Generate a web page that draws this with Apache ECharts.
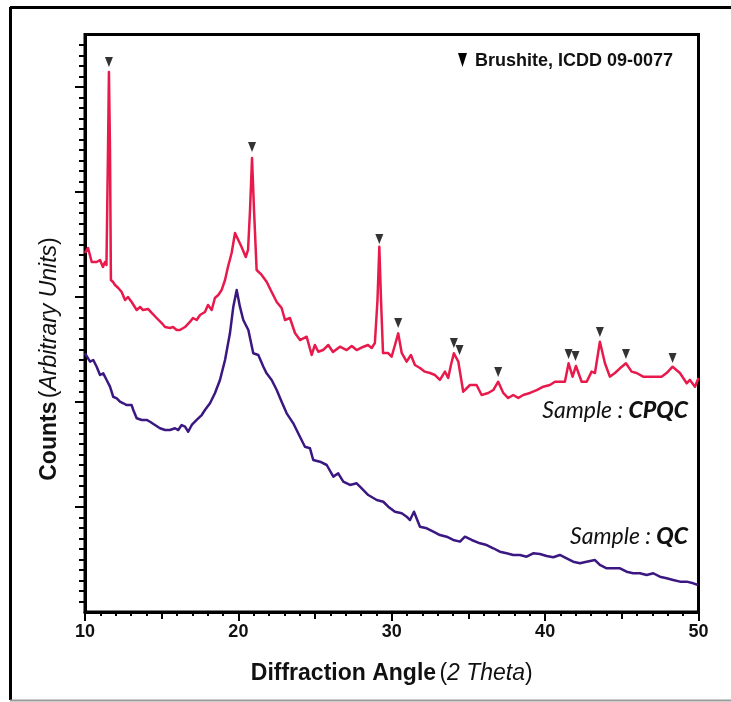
<!DOCTYPE html>
<html>
<head>
<meta charset="utf-8">
<title>XRD patterns</title>
<script src="https://cdn.jsdelivr.net/npm/echarts@6/dist/echarts.min.js"></script>
<style>
  html, body { margin: 0; padding: 0; background: #ffffff; }
  #chart { width: 731px; height: 702px; }
</style>
</head>
<body>
<div id="chart"></div>
<script>
// Sample CPQC diffractogram (2θ in degrees, counts in arbitrary units)
const cpqcAngle = [
  10.00, 10.20, 10.33, 10.44, 10.76, 10.98, 11.17, 11.30, 11.40, 11.50, 11.56, 11.63, 11.69, 11.83,
  11.96, 12.17, 12.39, 12.61, 12.80, 13.04, 13.37, 13.59, 13.78, 14.11, 14.35, 14.67, 15.00, 15.22,
  15.54, 15.74, 15.98, 16.19, 16.52, 16.84, 17.04, 17.28, 17.50, 17.82, 18.02, 18.26, 18.47, 18.69,
  18.91, 19.13, 19.32, 19.56, 19.78, 19.89, 20.21, 20.48, 20.63, 20.76, 20.89, 21.02, 21.19, 21.52,
  21.85, 22.17, 22.50, 22.82, 23.04, 23.36, 23.69, 24.02, 24.45, 24.78, 24.99, 25.21, 25.52, 25.86,
  26.17, 26.62, 27.06, 27.39, 27.71, 28.12, 28.45, 28.69, 28.90, 29.07, 29.19, 29.30, 29.43, 29.75,
  29.99, 30.21, 30.42, 30.65, 30.97, 31.25, 31.51, 31.84, 32.16, 32.49, 32.82, 33.14, 33.47, 33.68,
  33.86, 34.05, 34.34, 34.66, 35.10, 35.53, 35.86, 36.29, 36.62, 36.94, 37.27, 37.59, 37.92, 38.25,
  38.57, 39.01, 39.45, 39.88, 40.31, 40.64, 40.96, 41.29, 41.53, 41.79, 42.01, 42.38, 42.71, 43.03,
  43.25, 43.57, 43.90, 44.22, 44.55, 44.88, 45.27, 45.64, 45.96, 46.39, 47.05, 47.59, 47.92, 48.31,
  48.79, 49.23, 49.44, 49.77, 50.00
];
const cpqcCounts = [
  34.19, 34.67, 34.57, 33.33, 33.33, 33.52, 32.86, 33.33, 33.05, 44.00, 51.43, 44.00, 31.62, 31.43,
  31.14, 30.86, 30.48, 29.71, 30.00, 29.52, 28.76, 29.05, 28.76, 28.86, 28.48, 28.00, 27.52, 27.14,
  27.05, 27.14, 26.86, 26.86, 27.14, 27.62, 28.00, 27.81, 28.29, 28.57, 29.24, 28.76, 29.90, 30.19,
  30.67, 31.62, 32.86, 34.19, 36.10, 36.19, 34.76, 33.81, 34.48, 38.29, 43.24, 38.29, 32.57, 32.10,
  31.43, 30.48, 29.52, 28.95, 27.81, 28.00, 26.57, 25.90, 26.22, 24.48, 25.43, 24.79, 24.95, 25.43,
  24.76, 25.27, 24.95, 25.33, 24.95, 25.24, 25.43, 25.14, 25.62, 29.71, 34.79, 29.71, 24.67, 24.67,
  24.31, 25.43, 26.54, 24.67, 23.84, 24.48, 23.52, 23.24, 22.89, 22.76, 22.57, 22.10, 22.89, 22.29,
  23.52, 24.64, 23.84, 20.98, 21.62, 21.62, 20.67, 20.86, 21.14, 21.93, 20.86, 20.38, 20.67, 20.38,
  20.67, 20.86, 21.14, 21.46, 21.62, 21.93, 21.93, 21.93, 23.69, 22.41, 23.43, 21.93, 21.93, 22.89,
  22.76, 25.74, 23.69, 22.41, 22.76, 23.21, 23.69, 22.89, 22.76, 22.41, 22.41, 22.41, 22.76, 23.36,
  22.76, 21.78, 22.10, 21.46, 22.29
];

// Sample QC diffractogram
const qcAngle = [
  10.00, 10.33, 10.54, 10.76, 10.98, 11.19, 11.41, 11.63, 11.84, 12.07, 12.28, 12.50, 12.72, 13.04,
  13.15, 13.37, 13.70, 14.02, 14.24, 14.56, 14.89, 15.22, 15.54, 15.87, 16.08, 16.30, 16.52, 16.73,
  16.96, 17.28, 17.61, 17.82, 18.15, 18.47, 18.80, 19.13, 19.45, 19.67, 19.89, 20.10, 20.32, 20.65,
  20.97, 21.30, 21.63, 21.84, 22.17, 22.50, 22.82, 23.15, 23.58, 23.90, 24.34, 24.67, 24.88, 25.32,
  25.76, 26.19, 26.51, 26.84, 27.28, 27.71, 28.04, 28.47, 29.02, 29.45, 29.77, 30.21, 30.65, 30.97,
  31.19, 31.45, 31.84, 32.28, 32.71, 33.14, 33.58, 34.01, 34.45, 34.77, 35.21, 35.75, 36.19, 36.62,
  37.05, 37.49, 37.92, 38.36, 38.79, 39.22, 39.66, 40.10, 40.53, 40.96, 41.40, 41.83, 42.27, 42.70,
  43.25, 43.57, 44.01, 44.44, 44.88, 45.31, 45.74, 46.18, 46.62, 47.05, 47.48, 47.92, 48.35, 48.79,
  49.23, 49.66, 49.97
];
const qcCounts = [
  24.64, 23.84, 24.00, 23.36, 22.57, 22.73, 22.10, 21.46, 20.50, 20.35, 20.03, 19.88, 19.71, 19.71,
  19.24, 18.45, 18.29, 18.29, 18.12, 17.81, 17.50, 17.33, 17.33, 17.50, 17.33, 17.81, 17.65, 17.17,
  17.81, 18.29, 18.76, 19.24, 19.88, 20.83, 22.10, 24.00, 26.54, 29.08, 30.67, 29.08, 27.81, 26.86,
  24.64, 24.48, 23.36, 22.73, 22.10, 21.14, 20.03, 18.92, 17.97, 17.02, 15.74, 15.59, 14.48, 14.31,
  14.00, 12.89, 13.21, 12.41, 12.10, 12.26, 11.78, 11.14, 10.67, 10.50, 10.03, 9.55, 9.40, 9.08,
  8.76, 9.55, 8.12, 7.97, 7.65, 7.33, 7.17, 6.86, 6.70, 7.17, 6.86, 6.54, 6.38, 6.07,
  5.74, 5.59, 5.43, 5.43, 5.27, 5.59, 5.52, 5.33, 5.21, 5.43, 5.11, 4.79, 4.64, 4.79,
  4.95, 4.48, 4.16, 4.16, 4.16, 3.84, 3.69, 3.69, 3.52, 3.69, 3.36, 3.21, 3.05, 2.89,
  2.89, 2.73, 2.57
];

// Brushite (ICDD 09-0077) reflections marked above the CPQC pattern
const brushiteAngle = [11.56, 20.89, 29.19, 30.42, 34.05, 34.42, 36.94, 41.53, 41.98, 43.57, 45.27, 48.31];
const brushiteMark  = [52.38, 44.29, 35.52, 27.52, 25.62, 24.95, 22.86, 24.57, 24.38, 26.67, 24.57, 24.19];

// Axis ticks
const xTickLabels = [10, 20, 30, 40, 50];
const xMidTicks = [15, 25, 35, 45];
const yMajorTicks = [10, 20, 30, 40, 50];
const yMinorTicks = [];
for (let v = 1; v < 55; v++) { if (v % 10 !== 0) yMinorTicks.push(v); }

const zip = (xs, ys) => xs.map((x, i) => [x, ys[i]]);

const BRUSHITE = 'Brushite, ICDD 09-0077';
const DOWN_TRIANGLE = 'path://M0,0L10,0L5,12Z';
const axisFont = "'Liberation Sans', Arial, sans-serif";
const captionFont = "Lato, 'Open Sans', sans-serif";

const chart = echarts.init(document.getElementById('chart'), null, { renderer: 'canvas' });

const captionRich = {
  a: { fontFamily: captionFont, fontStyle: 'italic', fontSize: 23, fill: '#111' },
  b: { fontFamily: captionFont, fontStyle: 'italic', fontWeight: 900, fontSize: 23, fill: '#111' }
};

chart.setOption({
  backgroundColor: '#ffffff',
  animation: false,
  grid: { left: 85, right: 32.5, top: 34.5, bottom: 90, show: true, borderColor: '#000', borderWidth: 3, backgroundColor: 'transparent' },
  xAxis: [
    {
      type: 'value', min: 10, max: 50, interval: 10, position: 'bottom',
      axisLine: { show: true, lineStyle: { color: '#000', width: 3 } },
      axisTick: { show: true, length: 9, lineStyle: { color: '#000', width: 2 } },
      minorTick: { show: true, splitNumber: 10, length: 4, lineStyle: { color: '#000', width: 2 } },
      axisLabel: {
        show: true, margin: 11, color: '#111',
        fontFamily: axisFont, fontWeight: 'bold', fontSize: 18,
        customValues: xTickLabels
      },
      splitLine: { show: false }, minorSplitLine: { show: false },
      name: '{b|Diffraction Angle} {n|(}{i|2 Theta}{n|)}',
      nameLocation: 'middle', nameGap: 50,
      nameTextStyle: {
        color: '#111',
        rich: {
          b: { fontFamily: axisFont, fontWeight: 'bold', fontSize: 23, color: '#111' },
          n: { fontFamily: axisFont, fontSize: 23, color: '#111' },
          i: { fontFamily: axisFont, fontStyle: 'italic', fontSize: 23, color: '#111' }
        }
      }
    },
    {
      type: 'value', min: 10, max: 50, interval: 10, position: 'bottom',
      axisLine: { show: false }, axisLabel: { show: false }, splitLine: { show: false },
      axisTick: { show: true, length: 7, customValues: xMidTicks, lineStyle: { color: '#000', width: 2 } }
    }
  ],
  yAxis: [
    {
      type: 'value', min: 0, max: 55, position: 'left',
      axisLine: { show: true, lineStyle: { color: '#000', width: 3 } },
      axisTick: { show: true, length: 10, customValues: yMajorTicks, lineStyle: { color: '#000', width: 2 } },
      axisLabel: { show: false },
      splitLine: { show: false }
    },
    {
      type: 'value', min: 0, max: 55, position: 'left',
      axisLine: { show: false },
      axisTick: { show: true, length: 6, customValues: yMinorTicks, lineStyle: { color: '#000', width: 2 } },
      axisLabel: { show: false },
      splitLine: { show: false }
    }
  ],
  series: [
    {
      name: 'CPQC', type: 'line', xAxisIndex: 0, yAxisIndex: 0,
      data: zip(cpqcAngle, cpqcCounts),
      showSymbol: false, symbol: 'none',
      lineStyle: { color: '#e8194b', width: 2.5, join: 'round' },
      z: 3
    },
    {
      name: 'QC', type: 'line', xAxisIndex: 0, yAxisIndex: 0,
      data: zip(qcAngle, qcCounts),
      showSymbol: false, symbol: 'none',
      lineStyle: { color: '#3b1782', width: 2.5, join: 'round' },
      z: 3
    },
    {
      name: BRUSHITE, type: 'scatter', xAxisIndex: 0, yAxisIndex: 0,
      data: zip(brushiteAngle, brushiteMark),
      symbol: DOWN_TRIANGLE, symbolSize: [8, 10],
      itemStyle: { color: '#000' },
      z: 4
    }
  ],
  graphic: [
    // page frame
    { type: 'line', shape: { x1: 10, y1: 7.5, x2: 731, y2: 7.5 }, style: { stroke: '#000', lineWidth: 3 } },
    { type: 'line', shape: { x1: 10.5, y1: 7, x2: 10.5, y2: 700 }, style: { stroke: '#000', lineWidth: 3 } },
    { type: 'line', shape: { x1: 10, y1: 700.5, x2: 731, y2: 700.5 }, style: { stroke: '#9a9a9a', lineWidth: 2 } },
    // key for the reflection markers
    { type: 'polygon', shape: { points: [[458, 53], [467, 53], [462.5, 67]] }, style: { fill: '#000' } },
    {
      type: 'text', x: 475, y: 61,
      style: { text: BRUSHITE, verticalAlign: 'middle', fontFamily: axisFont, fontWeight: 'bold', fontSize: 18, fill: '#111' }
    },
    // y-axis title
    {
      type: 'text', x: 50, y: 359, rotation: Math.PI / 2,
      style: {
        text: '{b|Counts} {n|(}{i|Arbitrary Units}{n|)}',
        align: 'center', verticalAlign: 'middle',
        rich: {
          b: { fontFamily: axisFont, fontWeight: 'bold', fontSize: 23, fill: '#111' },
          n: { fontFamily: axisFont, fontSize: 23, fill: '#111' },
          i: { fontFamily: axisFont, fontStyle: 'italic', fontSize: 23, fill: '#111' }
        }
      }
    },
    // sample captions
    { type: 'text', right: 43, top: 399, style: { text: '{a|Sample : }{b|CPQC}', rich: captionRich } },
    { type: 'text', right: 43, top: 525, style: { text: '{a|Sample : }{b|QC}', rich: captionRich } }
  ]
});
</script>
</body>
</html>
